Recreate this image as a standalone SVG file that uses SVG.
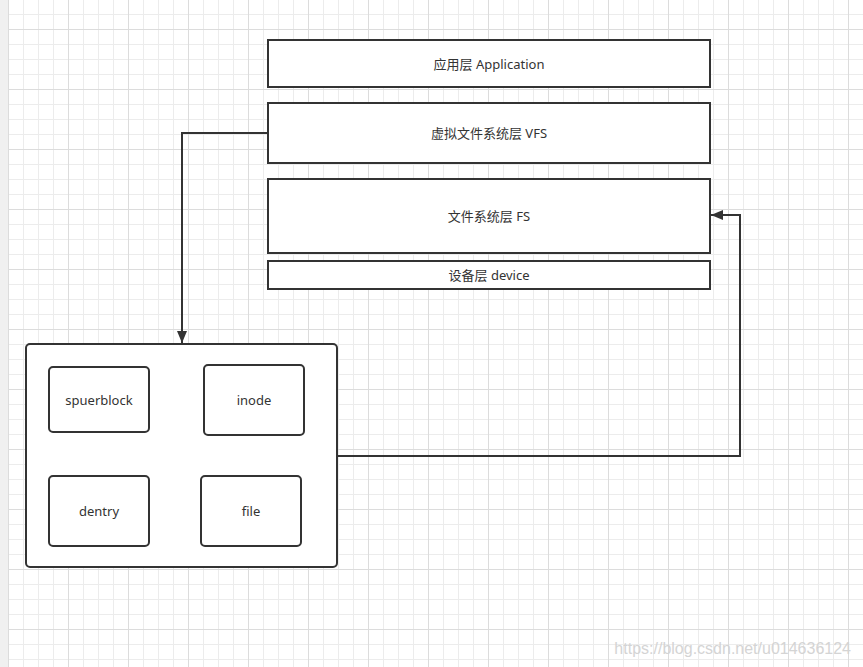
<svg xmlns="http://www.w3.org/2000/svg" width="863" height="667" viewBox="0 0 863 667">
<style>
.box{fill:#fff;stroke:#333;stroke-width:2}
.lbl{font-family:"Noto Sans","Noto Sans CJK SC",sans-serif;font-size:13px;fill:#333;text-anchor:middle;dominant-baseline:central}
.conn{fill:none;stroke:#333;stroke-width:2}
</style>
<defs>
<pattern id="grid" x="8" y="29" width="60" height="60" patternUnits="userSpaceOnUse">
<rect x="15" y="0" width="1" height="60" fill="#ececec"/>
<rect x="30" y="0" width="1" height="60" fill="#ececec"/>
<rect x="45" y="0" width="1" height="60" fill="#ececec"/>
<rect x="0" y="15" width="60" height="1" fill="#ececec"/>
<rect x="0" y="30" width="60" height="1" fill="#ececec"/>
<rect x="0" y="45" width="60" height="1" fill="#ececec"/>
<rect x="0" y="0" width="1" height="60" fill="#dcdcdc"/>
<rect x="0" y="0" width="60" height="1" fill="#dcdcdc"/>
</pattern>
<marker id="arrow" viewBox="0 0 10 10" refX="9" refY="5" markerWidth="6" markerHeight="6" markerUnits="userSpaceOnUse" orient="auto" overflow="visible">
<path d="M0,0 L10,5 L0,10 Z" fill="#333"/>
</marker>
<marker id="arr" markerUnits="userSpaceOnUse" viewBox="0 0 12 10" refX="12" refY="5" markerWidth="12" markerHeight="10" orient="auto">
<path d="M0,0 L12,5 L0,10 Z" fill="#333"/>
</marker>
</defs>
<rect x="0" y="0" width="863" height="667" fill="#fff"/>
<rect x="8" y="0" width="855" height="667" fill="url(#grid)"/>
<rect x="0" y="0" width="8" height="667" fill="#f0f0f0"/>

<g id="connectors">
<path class="conn" d="M268,133 H182 V343" marker-end="url(#arr)"/>
<path class="conn" d="M337,456 H740 V215 H711" marker-end="url(#arr)"/>
</g>

<g id="app"><rect class="box" x="268" y="40" width="442" height="47"/><text class="lbl" x="489" y="63.5">应用层 Application</text></g>
<g id="vfs"><rect class="box" x="268" y="103" width="442" height="60"/><text class="lbl" x="489" y="133">虚拟文件系统层 VFS</text></g>
<g id="fs"><rect class="box" x="268" y="179" width="442" height="74"/><text class="lbl" x="489" y="216">文件系统层 FS</text></g>
<g id="device"><rect class="box" x="268" y="261" width="442" height="28"/><text class="lbl" x="489" y="275">设备层 device</text></g>

<g id="container"><rect class="box" x="26" y="344" width="311" height="223" rx="4"/></g>
<g id="superblock"><rect class="box" x="49" y="367" width="100" height="65" rx="4"/><text class="lbl" x="99" y="400">spuerblock</text></g>
<g id="inode"><rect class="box" x="204" y="365" width="100" height="70" rx="4"/><text class="lbl" x="254" y="400">inode</text></g>
<g id="dentry"><rect class="box" x="49" y="476" width="100" height="70" rx="4"/><text class="lbl" x="99" y="511">dentry</text></g>
<g id="file"><rect class="box" x="201" y="476" width="100" height="70" rx="4"/><text class="lbl" x="251" y="511">file</text></g>

<text x="851" y="654" font-family="Liberation Sans, Arial, sans-serif" font-size="16" fill="#d4d4d4" text-anchor="end">https://blog.csdn.net/u014636124</text>
</svg>
